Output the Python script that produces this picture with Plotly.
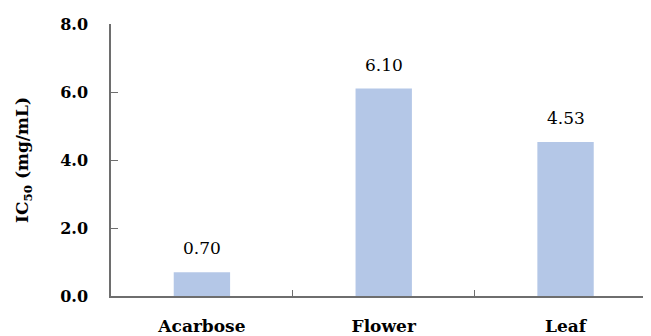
import plotly.graph_objects as go

categories = ["Acarbose", "Flower", "Leaf"]
ic50_values = [0.70, 6.10, 4.53]
value_labels = ["0.70", "6.10", "4.53"]
y_ticks = [0, 2, 4, 6, 8]

FONT = "DejaVu Serif"
AXIS_COLOR = "#6e6e6e"

fig = go.Figure()
fig.add_trace(go.Bar(
    x=categories,
    y=ic50_values,
    marker=dict(color="#B4C7E7", line=dict(width=0)),
    width=0.31,
    showlegend=False,
))

for c, v, t in zip(categories, ic50_values, value_labels):
    fig.add_annotation(
        x=c, y=v, text=t, showarrow=False,
        yanchor="bottom", yshift=12,
        font=dict(family=FONT, size=17, color="#000000"),
    )

# page body has an 8px default margin: figure is sized/margined to compensate
fig.update_layout(
    width=643, height=328,
    margin=dict(l=102.5, r=0, t=16, b=40),
    plot_bgcolor="white", paper_bgcolor="white",
    font=dict(family=FONT, color="#000000"),
    xaxis=dict(
        range=[-0.5, 2.47],
        showline=True, linecolor=AXIS_COLOR, linewidth=1.5,
        ticks="inside", tickson="boundaries", ticklen=6, tickcolor=AXIS_COLOR, tickwidth=1.2,
        tickfont=dict(family=FONT, size=17, color="#000000", weight="bold"),
        ticklabelstandoff=14,
        showgrid=False, zeroline=False, automargin=False,
    ),
    yaxis=dict(
        range=[0, 8], tickvals=y_ticks, tickformat=".1f",
        showline=True, linecolor=AXIS_COLOR, linewidth=1.5,
        ticks="inside", ticklen=7, tickcolor=AXIS_COLOR, tickwidth=1.2,
        tickfont=dict(family=FONT, size=16, color="#000000", weight="bold"),
        ticklabelstandoff=18,
        showgrid=False, zeroline=False, automargin=False,
        title=dict(text="IC<sub>50</sub> (mg/mL)", standoff=27,
                   font=dict(family=FONT, size=17, color="#000000", weight="bold")),
    ),
)

fig.write_html("out.html")
